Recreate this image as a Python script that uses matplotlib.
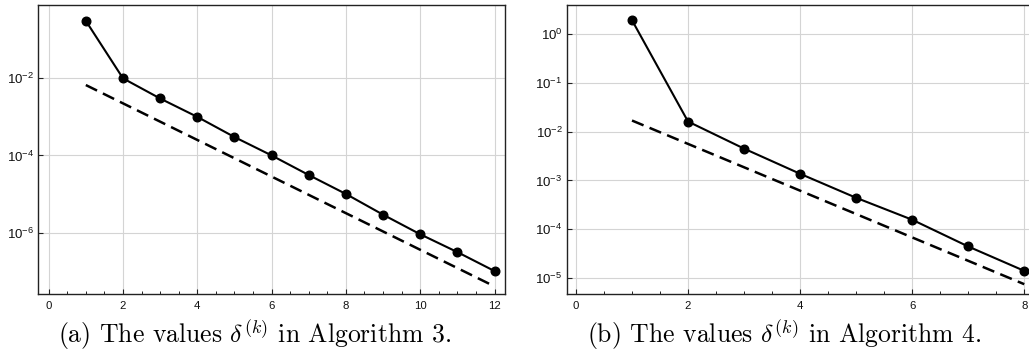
import matplotlib
matplotlib.use("Agg")
import matplotlib.pyplot as plt
from matplotlib.ticker import MultipleLocator, NullLocator

plt.rcParams.update({
    "font.family": "Liberation Sans",
    "mathtext.fontset": "custom",
    "mathtext.rm": "Liberation Sans",
    "mathtext.it": "Liberation Sans:italic",
    "mathtext.bf": "Liberation Sans:bold",
    "font.size": 7.5,
})

# Algorithm 3
k_a = [1, 2, 3, 4, 5, 6, 7, 8, 9, 10, 11, 12]
delta_a = [0.31, 1.0e-2, 3.0e-3, 1.0e-3, 3.0e-4, 1.0e-4, 3.1e-5, 1.0e-5, 2.9e-6, 9.0e-7, 3.1e-7, 1.0e-7]
ref_k_a = [1, 12]
ref_a = [6.7e-3, 4.0e-8]

# Algorithm 4
k_b = [1, 2, 3, 4, 5, 6, 7, 8]
delta_b = [1.95, 1.62e-2, 4.5e-3, 1.37e-3, 4.4e-4, 1.56e-4, 4.4e-5, 1.39e-5]
ref_k_b = [1, 8]
ref_b = [1.7e-2, 7.4e-6]

captions = [r"(a) The values $\delta^{(k)}$ in Algorithm 3.",
            r"(b) The values $\delta^{(k)}$ in Algorithm 4."]

fig = plt.figure(figsize=(10.29, 3.54), dpi=100)
ax_a = fig.add_axes([0.0372, 0.169, 0.4535, 0.817])
ax_b = fig.add_axes([0.5507, 0.169, 0.4523, 0.817])

SPINE = "#222222"


def style(ax):
    ax.set_yscale("log")
    ax.grid(True, color="#d4d4d4", lw=0.8)
    ax.set_axisbelow(True)
    ax.xaxis.set_major_locator(MultipleLocator(2))
    ax.xaxis.set_minor_locator(MultipleLocator(0.5))
    ax.yaxis.set_minor_locator(NullLocator())
    ax.tick_params(which="both", direction="in", top=False, right=False,
                   colors=SPINE, labelcolor="#111111")
    ax.tick_params(which="major", length=3.8, width=0.8)
    ax.tick_params(which="minor", length=2.2, width=0.7)
    ax.tick_params(axis="x", pad=5, labelsize=8.2)
    ax.tick_params(axis="y", pad=3, labelsize=9.5)
    for s in ax.spines.values():
        s.set_color(SPINE)
        s.set_linewidth(1.0)


def draw(ax, k, d, rk, rv):
    ax.plot(rk, rv, color="black", lw=1.8, ls="--", dashes=(5, 2.6), zorder=2)
    ax.plot(k, d, color="black", lw=1.5, marker="o", ms=6.2, zorder=3, clip_on=False)


draw(ax_a, k_a, delta_a, ref_k_a, ref_a)
style(ax_a)
ax_a.set_xlim(-0.28, 12.28)
ax_a.set_ylim(10 ** -7.6, 10 ** -0.096)
ax_a.set_yticks([1e-2, 1e-4, 1e-6])
ax_a.yaxis.set_minor_locator(NullLocator())

draw(ax_b, k_b, delta_b, ref_k_b, ref_b)
style(ax_b)
ax_b.set_xlim(-0.166, 8.14)
ax_b.set_ylim(10 ** -5.336, 10 ** 0.604)
ax_b.set_yticks([1e0, 1e-1, 1e-2, 1e-3, 1e-4, 1e-5])
ax_b.yaxis.set_minor_locator(NullLocator())

for x, cap in zip([0.247, 0.762], captions):
    fig.text(x, 0.055, cap, ha="center", va="center", fontsize=18.5,
             family="cmr10", math_fontfamily="cm")

fig.savefig("out.png", dpi=100)
